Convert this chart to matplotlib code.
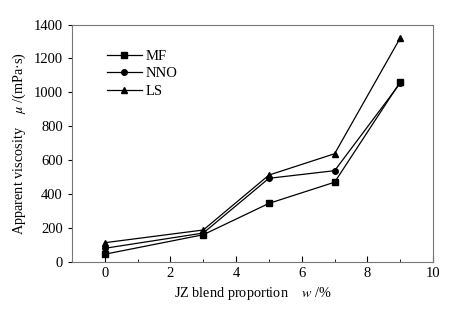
import numpy as np
import matplotlib
matplotlib.use('Agg')
from matplotlib import pyplot as plt
from matplotlib.ticker import MultipleLocator

# blend proportion w /%
w = [0, 3, 5, 7, 9]
# apparent viscosity mPa·s
mf = [45, 160, 345, 470, 1062]
nno = [80, 170, 493, 538, 1055]
ls = [113, 188, 512, 638, 1322]

plt.rcParams['font.family'] = ['Liberation Serif', 'DejaVu Serif']
plt.rcParams['mathtext.fontset'] = 'stix'
plt.rcParams['font.size'] = 10.5

fig = plt.figure(figsize=(4.55, 3.11), dpi=100)
ax = fig.add_axes([0.158, 0.158, 0.794, 0.763])

ax.plot(w, mf, 'k-', marker='s', ms=4, lw=0.9, label='MF')
ax.plot(w, nno, 'k-', marker='o', ms=4, lw=0.9, label='NNO')
ax.plot(w, ls, 'k-', marker='^', ms=4.5, lw=0.9, label='LS')

ax.set_xlim(-1, 10)
ax.set_ylim(0, 1400)
ax.xaxis.set_major_locator(MultipleLocator(2))
ax.xaxis.set_minor_locator(MultipleLocator(1))
ax.yaxis.set_major_locator(MultipleLocator(200))
ax.tick_params(axis='x', which='both', direction='in', top=False)
ax.tick_params(axis='x', which='major', length=4)
ax.tick_params(axis='x', which='minor', length=2.5)
ax.tick_params(axis='y', direction='out', right=False, length=3)
for s in ax.spines.values():
    s.set_color('#777777')
    s.set_linewidth(0.8)

ax.set_xlabel(r'JZ blend proportion    $w$ /%', fontsize=10.3)
ax.set_ylabel(r'Apparent viscosity    $\mu$ /(mPa·s)', fontsize=10.3)

ax.legend(loc='upper left', bbox_to_anchor=(0.06, 0.95), frameon=False,
          handlelength=2.4, handletextpad=0.3, labelspacing=0.3)

fig.savefig('out.png', dpi=100)
